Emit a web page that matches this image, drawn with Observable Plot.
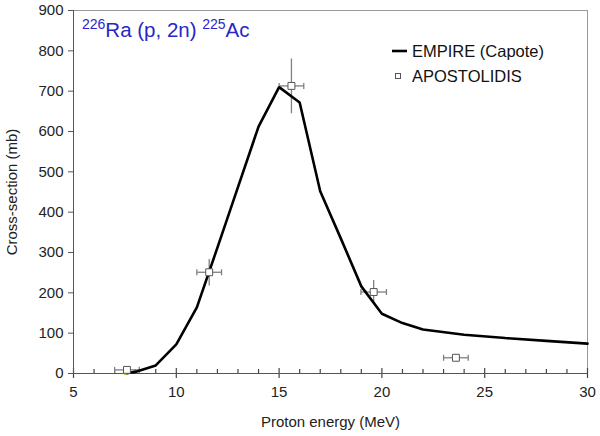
<!DOCTYPE html>
<html><head><meta charset="utf-8">
<script src="https://cdn.jsdelivr.net/npm/d3@7"></script>
<script src="https://cdn.jsdelivr.net/npm/@observablehq/plot@0.6"></script>
<style>
body{margin:0;background:#fff;}
#wrap{position:relative;width:600px;height:436px;}
</style></head><body><div id="wrap"></div>
<script>
// EMPIRE (Capote) calculation
const empireEnergy = [7.5, 8, 9, 10, 11, 12, 13, 14, 15, 16, 17, 18, 19, 20, 21, 22, 24, 26, 28, 30];
const empireXs     = [0, 4, 20, 72, 164, 312, 462, 612, 710, 672, 452, 335, 216, 148, 125, 109, 96, 88, 81, 74];
// APOSTOLIDIS experimental points
const expEnergy = [7.6, 11.6, 15.6, 19.6, 23.6];
const expXs     = [9, 251, 713, 202, 39];
const expErrE   = [0.6, 0.6, 0.6, 0.62, 0.6];
const expErrXs  = [4, 33, 68, 30, 3];
// ticks
const xTicks = [5, 10, 15, 20, 25, 30];
const xMinor = [6, 7, 8, 9, 11, 12, 13, 14, 16, 17, 18, 19, 21, 22, 23, 24, 26, 27, 28, 29];
const yTicks = [0, 100, 200, 300, 400, 500, 600, 700, 800, 900];
const startMarker = [{e: 7.5, s: 0}];

const empire = empireEnergy.map((e, i) => ({e, s: empireXs[i]}));
const exp = expEnergy.map((e, i) => ({e, s: expXs[i], de: expErrE[i], ds: expErrXs[i]}));

const vbar = {draw(ctx) { ctx.moveTo(0, -3); ctx.lineTo(0, 3); }};

const font = "Liberation Sans, Arial, Helvetica, sans-serif";
const plot = Plot.plot({
  width: 600, height: 436,
  marginLeft: 73, marginRight: 13, marginTop: 10, marginBottom: 63,
  style: {fontFamily: font, fontSize: "15px", color: "#222", background: "#fff"},
  x: {domain: [5, 30]},
  y: {domain: [0, 900]},
  marks: [
    Plot.frame({stroke: "#999", strokeWidth: 1}),
    Plot.axisY(yTicks, {tickSize: 5, tickPadding: 5, stroke: "#555", fill: "#222", fontSize: 15,
      label: "Cross-section (mb)", labelAnchor: "center", labelArrow: "none", labelOffset: 67}),
    Plot.axisX(xTicks, {tickSize: 5, tickPadding: 8, stroke: "#444", strokeWidth: 1.2, fill: "#222", fontSize: 15,
      label: "Proton energy (MeV)", labelAnchor: "center", labelArrow: "none", labelOffset: 53}),
    Plot.axisX(xTicks, {anchor: "bottom", tickSize: 5, dy: -5, tickFormat: () => "", label: null, stroke: "#444", strokeWidth: 1.2}),
    Plot.axisX(xMinor, {anchor: "bottom", tickSize: 4, dy: -4, tickFormat: () => "", label: null, stroke: "#444", strokeWidth: 1.2}),
    Plot.ruleX([5], {stroke: "#555"}),
    Plot.ruleY([0], {stroke: "#555"}),
    // error bars
    Plot.link(exp, {x1: d => d.e, x2: d => d.e, y1: d => d.s - d.ds, y2: d => d.s + d.ds, stroke: "#808080", strokeWidth: 1.3}),
    Plot.link(exp, {x1: d => d.e - d.de, x2: d => d.e + d.de, y1: "s", y2: "s", stroke: "#808080", strokeWidth: 1.3}),
    Plot.dot(exp, {x: d => d.e - d.de, y: "s", symbol: vbar, stroke: "#808080", strokeWidth: 1.3}),
    Plot.dot(exp, {x: d => d.e + d.de, y: "s", symbol: vbar, stroke: "#808080", strokeWidth: 1.3}),
    Plot.line(empire, {x: "e", y: "s", stroke: "#000", strokeWidth: 2.6, strokeLinejoin: "miter"}),
    Plot.dot(startMarker, {x: "e", y: "s", r: 1.6, fill: "#e8e000", stroke: "none"}),
    Plot.dot(exp, {x: "e", y: "s", symbol: "square", r: 3.9, fill: "#fff", stroke: "#555", strokeWidth: 1})
  ]
});
document.getElementById("wrap").appendChild(plot);

const svg = d3.select(plot);
// title with superscripts
const t = svg.append("text").attr("x", 82).attr("y", 37).attr("fill", "#2727c8")
  .attr("text-anchor", "start").attr("font-family", font).attr("font-size", 20.5);
t.append("tspan").attr("font-size", 14).attr("dy", -8).text("226");
t.append("tspan").attr("dy", 8).text("Ra (p, 2n) ");
t.append("tspan").attr("font-size", 14).attr("dy", -8).text("225");
t.append("tspan").attr("dy", 8).text("Ac");
// legend
const lg = svg.append("g").attr("font-family", font).attr("font-size", 16.5).attr("fill", "#111").attr("text-anchor", "start");
lg.append("line").attr("x1", 392).attr("x2", 407).attr("y1", 51).attr("y2", 51).attr("stroke", "#000").attr("stroke-width", 2.6);
lg.append("text").attr("x", 412).attr("y", 57).text("EMPIRE (Capote)");
lg.append("rect").attr("x", 395.5).attr("y", 73.5).attr("width", 5).attr("height", 5).attr("fill", "#fff").attr("stroke", "#555");
lg.append("text").attr("x", 412).attr("y", 82).text("APOSTOLIDIS");
</script>
</body></html>
